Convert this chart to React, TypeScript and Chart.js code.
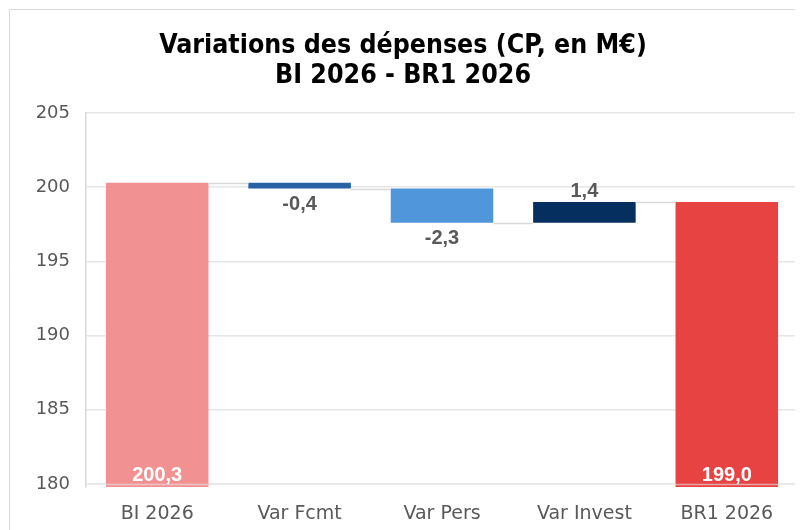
import React, { useEffect, useRef } from "react";
import { Chart, registerables } from "chart.js";

Chart.register(...registerables);

const categories = ["BI 2026", "Var Fcmt", "Var Pers", "Var Invest", "BR1 2026"];
const startTotal = 200.3;
const deltas = [-0.4, -2.3, 1.4];
const endTotal = 199.0;
const barColors = ["#f19191", "#2862a5", "#5096db", "#052f5f", "#e84343"];
const yTicks = [180, 185, 190, 195, 200, 205];
const titleLines = ["Variations des dépenses (CP, en M€)", "BI 2026 - BR1 2026"];

const fmt = (v: number) => v.toFixed(1).replace(".", ",");

function buildData() {
  const data: (number | [number, number])[] = [startTotal];
  const levels: number[] = [startTotal];
  let level = startTotal;
  for (const d of deltas) {
    const next = Math.round((level + d) * 10) / 10;
    data.push([level, next]);
    level = next;
    levels.push(level);
  }
  data.push(endTotal);
  levels.push(endTotal);
  return { data, levels };
}

export default function App() {
  const ref = useRef<HTMLCanvasElement | null>(null);
  useEffect(() => {
    if (!ref.current) return;
    const { data, levels } = buildData();
    const family = "'DejaVu Sans', Verdana, sans-serif";

    const waterfallPlugin = {
      id: "waterfallExtras",
      beforeDraw(chart: any) {
        const { ctx } = chart;
        ctx.save();
        ctx.strokeStyle = "#d9d9d9";
        ctx.lineWidth = 1;
        ctx.beginPath();
        ctx.moveTo(1.5, chart.height);
        ctx.lineTo(1.5, 1.5);
        ctx.lineTo(chart.width, 1.5);
        ctx.stroke();
        ctx.restore();
      },
      afterDatasetsDraw(chart: any) {
        const { ctx, chartArea } = chart;
        const meta = chart.getDatasetMeta(0);
        const y = chart.scales.y;
        ctx.save();
        ctx.strokeStyle = "#d9d9d9";
        ctx.lineWidth = 1.5;
        for (let i = 0; i < meta.data.length - 1; i++) {
          const a = meta.data[i];
          const b = meta.data[i + 1];
          const yy = Math.round(y.getPixelForValue(levels[i])) + 0.5;
          ctx.beginPath();
          ctx.moveTo(a.x + a.width / 2, yy);
          ctx.lineTo(b.x - b.width / 2, yy);
          ctx.stroke();
        }
        const y180 = Math.round(y.getPixelForValue(yTicks[0])) + 0.5;
        ctx.strokeStyle = "rgba(232,232,232,0.6)";
        ctx.lineWidth = 1.5;
        ctx.beginPath();
        ctx.moveTo(chartArea.left, y180);
        ctx.lineTo(chartArea.right, y180);
        ctx.stroke();
        ctx.textAlign = "center";
        ctx.font = "bold 20px 'Liberation Sans', Arial, sans-serif";
        meta.data.forEach((bar: any, i: number) => {
          if (i === 0 || i === meta.data.length - 1) {
            const v = i === 0 ? startTotal : endTotal;
            ctx.fillStyle = "#ffffff";
            ctx.textBaseline = "alphabetic";
            ctx.fillText(fmt(v), bar.x, y180 - 4);
          } else {
            const d = deltas[i - 1];
            ctx.fillStyle = "#595959";
            const top = Math.min(bar.y, bar.base);
            const bottom = Math.max(bar.y, bar.base);
            if (d < 0) {
              ctx.textBaseline = "top";
              ctx.fillText(fmt(d), bar.x, bottom + 6);
            } else {
              ctx.textBaseline = "alphabetic";
              ctx.fillText(fmt(d), bar.x, top - 5);
            }
          }
        });
        ctx.restore();
      },
    };

    const chart = new Chart(ref.current, {
      type: "bar",
      data: {
        labels: categories,
        datasets: [
          {
            data: data as any,
            backgroundColor: barColors,
            borderWidth: 0,
            barPercentage: 0.72,
            categoryPercentage: 1,
          },
        ],
      },
      options: {
        animation: false,
        responsive: false,
        layout: { padding: { left: 0, right: 5, top: 0, bottom: 0 } },
        plugins: {
          legend: { display: false },
          tooltip: { enabled: false },
          title: {
            display: true,
            text: titleLines,
            color: "#000000",
            font: { family: "'DejaVu Sans Condensed', 'DejaVu Sans', sans-serif", size: 26.5, weight: "bold", lineHeight: 1.13 },
            padding: { top: 23, bottom: 22 },
          },
        },
        scales: {
          x: {
            grid: { display: false, drawTicks: false },
            border: { display: false },
            ticks: { color: "#595959", font: { family, size: 19 }, padding: 16 },
            afterFit: (s: any) => {
              s.height = 43;
            },
          },
          y: {
            min: 179.8,
            max: 205,
            afterBuildTicks: (s: any) => {
              s.ticks = yTicks.map((v) => ({ value: v }));
            },
            grid: { color: "#e6e6e6", lineWidth: 1.5, drawTicks: false },
            border: { display: true, color: "#d9d9d9", width: 1.5 },
            ticks: { color: "#595959", font: { family, size: 18 }, padding: 16 },
            afterFit: (s: any) => {
              s.width = 78;
            },
          },
        },
      },
      plugins: [waterfallPlugin],
    });
    return () => chart.destroy();
  }, []);
  return (
    <div style={{ width: 795, height: 522 }}>
      <canvas ref={ref} width={795} height={522} style={{ display: "block" }} />
    </div>
  );
}
